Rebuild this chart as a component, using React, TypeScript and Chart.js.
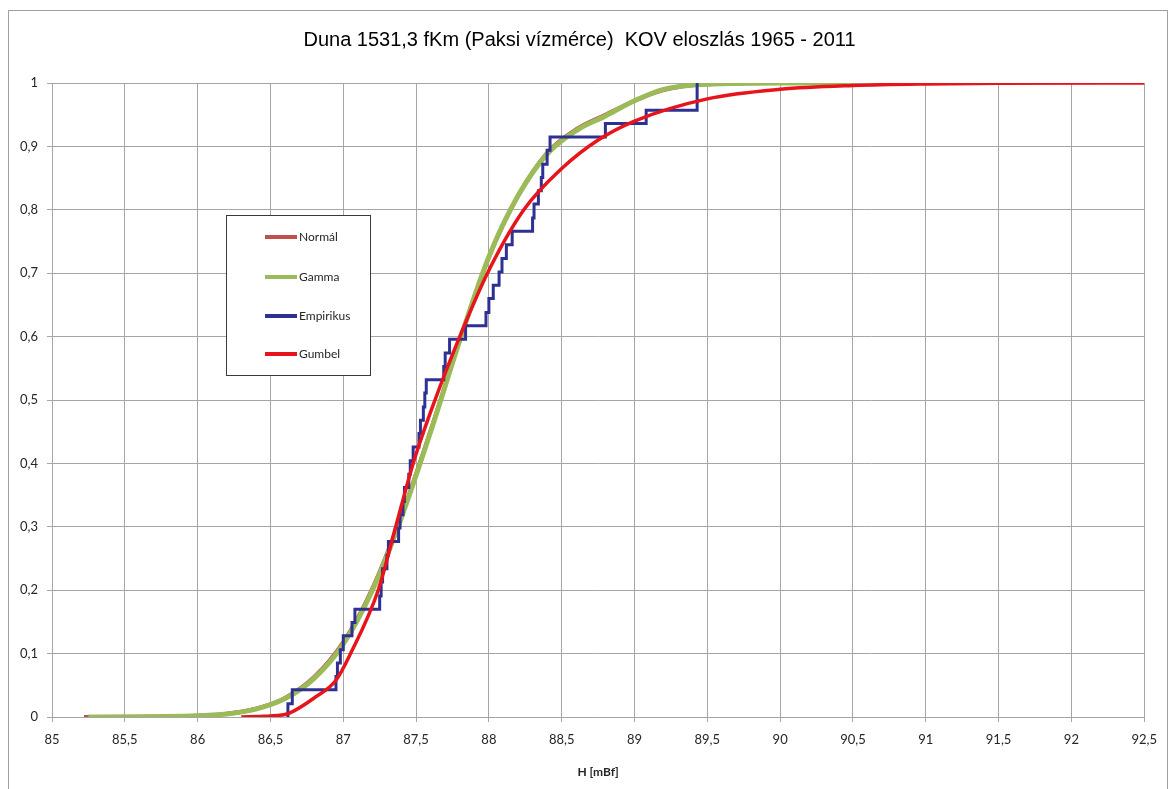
import { useEffect, useRef } from 'react';
import { Chart, registerables } from 'chart.js';

Chart.register(...registerables);

const TITLE = 'Duna 1531,3 fKm (Paksi vízmérce)  KOV eloszlás 1965 - 2011';
const X_TITLE = 'H [mBf]';

const X_MIN = 85;
const X_MAX = 92.5;
const X_STEP = 0.5;
const Y_MIN = 0;
const Y_MAX = 1;
const Y_STEP = 0.1;

const SERIES_NAMES = ['Normál', 'Gamma', 'Empirikus', 'Gumbel'];
const SERIES_COLORS = ['#C0504D', '#9BBB59', '#2E3192', '#E8141B'];
const SERIES_WIDTHS = [4, 5, 3, 3.5];

const normalX = [85.22, 85.5, 85.75, 86.0, 86.2, 86.4, 86.6, 86.8, 87.0, 87.2, 87.4, 87.6, 87.8, 88.0, 88.2, 88.4, 88.6, 88.8, 89.0, 89.2, 89.5, 90.0, 90.5];
const normalY = [0, 0.0002, 0.0006, 0.002, 0.005, 0.013, 0.03, 0.063, 0.118, 0.203, 0.318, 0.452, 0.594, 0.725, 0.822, 0.89, 0.927, 0.95, 0.972, 0.989, 0.998, 1.0, 1.0];

const gammaX = [85.25, 85.5, 85.75, 86.0, 86.2, 86.4, 86.6, 86.8, 87.0, 87.2, 87.4, 87.6, 87.8, 88.0, 88.2, 88.4, 88.6, 88.8, 89.0, 89.2, 89.5, 90.0, 90.5];
const gammaY = [0, 0.0001, 0.0005, 0.0018, 0.0048, 0.0125, 0.029, 0.061, 0.115, 0.2, 0.315, 0.45, 0.594, 0.726, 0.822, 0.888, 0.925, 0.948, 0.972, 0.99, 0.998, 1.0, 1.0];

const empiricalX = [86.62, 86.62, 86.65, 86.95, 86.96, 86.98, 87.0, 87.06, 87.08, 87.25, 87.26, 87.27, 87.3, 87.31, 87.38, 87.39, 87.41, 87.42, 87.45, 87.46, 87.48, 87.52, 87.53, 87.55, 87.56, 87.57, 87.69, 87.7, 87.73, 87.84, 87.98, 88.0, 88.03, 88.07, 88.09, 88.12, 88.16, 88.3, 88.31, 88.34, 88.36, 88.37, 88.4, 88.42, 88.8, 89.08, 89.43, 89.43];
const empiricalY = [0, 0.021, 0.043, 0.064, 0.085, 0.106, 0.128, 0.149, 0.17, 0.191, 0.213, 0.234, 0.255, 0.277, 0.298, 0.319, 0.34, 0.362, 0.383, 0.404, 0.426, 0.447, 0.468, 0.489, 0.511, 0.532, 0.553, 0.574, 0.596, 0.617, 0.638, 0.66, 0.681, 0.702, 0.723, 0.745, 0.766, 0.787, 0.809, 0.83, 0.851, 0.872, 0.894, 0.915, 0.936, 0.957, 0.979, 1.0];

const gumbelX = [86.3, 86.45, 86.6, 86.63, 86.8, 86.95, 87.05, 87.24, 87.36, 87.48, 87.63, 87.8, 87.99, 88.24, 88.5, 88.75, 89.0, 89.5, 90.0, 90.5, 91.0, 91.5, 92.5];
const gumbelY = [0, 0.001, 0.004, 0.006, 0.03, 0.058, 0.1, 0.2, 0.3, 0.4, 0.5, 0.6, 0.7, 0.8, 0.865, 0.91, 0.94, 0.975, 0.99, 0.996, 0.9985, 0.9995, 1.0];

const toPoints = (xs: number[], ys: number[]) => xs.map((x, i) => ({ x, y: ys[i] }));
const fmt = (v: number) => (Math.round(v * 10) / 10).toString().replace('.', ',');

const boxLegend = {
  id: 'boxLegend',
  afterDraw(chart: any) {
    const ctx = chart.ctx as CanvasRenderingContext2D;
    ctx.save();
    const bx = 217, by = 204, bw = 144, bh = 160;
    ctx.fillStyle = '#ffffff';
    ctx.fillRect(bx, by, bw, bh);
    ctx.strokeStyle = '#3a3a3a';
    ctx.lineWidth = 1;
    ctx.strokeRect(bx + 0.5, by + 0.5, bw, bh);
    const rows = [226, 266, 305, 343];
    ctx.font = '12px Lato, "Open Sans", sans-serif';
    ctx.textBaseline = 'middle';
    ctx.textAlign = 'left';
    SERIES_NAMES.forEach((name, i) => {
      const y = rows[i];
      ctx.strokeStyle = SERIES_COLORS[i];
      ctx.lineWidth = 4;
      ctx.beginPath();
      ctx.moveTo(256, y);
      ctx.lineTo(288, y);
      ctx.stroke();
      ctx.fillStyle = '#262626';
      ctx.fillText(name, 290, y);
    });
    ctx.restore();
  },
};

export default function App() {
  const ref = useRef<HTMLCanvasElement | null>(null);

  useEffect(() => {
    if (!ref.current) return;
    const mk = (i: number, data: any[], extra: any = {}) => ({
      label: SERIES_NAMES[i],
      data,
      borderColor: SERIES_COLORS[i],
      backgroundColor: SERIES_COLORS[i],
      borderWidth: SERIES_WIDTHS[i],
      pointRadius: 0,
      fill: false,
      ...extra,
    });
    const chart = new Chart(ref.current, {
      type: 'line',
      data: {
        datasets: [
          mk(0, toPoints(normalX, normalY), { cubicInterpolationMode: 'monotone', order: 4 }),
          mk(1, toPoints(gammaX, gammaY), { cubicInterpolationMode: 'monotone', order: 3 }),
          mk(2, toPoints(empiricalX, empiricalY), { stepped: 'before', order: 2, borderJoinStyle: 'miter' }),
          mk(3, toPoints(gumbelX, gumbelY), { cubicInterpolationMode: 'monotone', order: 1 }),
        ],
      },
      options: {
        animation: false,
        responsive: false,
        parsing: false as any,
        layout: { padding: { left: 0, right: 17, top: 0, bottom: 0 } },
        plugins: {
          legend: { display: false },
          tooltip: { enabled: false },
          title: {
            display: true,
            text: TITLE,
            color: '#000000',
            font: { family: '"Liberation Sans", Arial, sans-serif', size: 20, weight: 'normal', lineHeight: 1.2 },
            padding: { top: 17, bottom: 31 },
          },
        },
        scales: {
          x: {
            type: 'linear',
            min: X_MIN,
            max: X_MAX,
            afterFit: (s: any) => { s.height = 72; },
            ticks: {
              stepSize: X_STEP,
              callback: (v: any) => fmt(Number(v)),
              color: '#262626',
              font: { family: 'Lato, "Open Sans", sans-serif', size: 13 },
              padding: 10,
              maxRotation: 0,
            },
            grid: { color: '#a6a6a6', lineWidth: 1, tickLength: 5 },
            border: { color: '#a6a6a6', width: 1 },
            title: {
              display: true,
              text: X_TITLE,
              color: '#262626',
              font: { family: 'Lato, "Open Sans", sans-serif', size: 12, weight: 'bold', lineHeight: 1.2 },
              padding: { top: 4, bottom: 10 },
            },
          },
          y: {
            type: 'linear',
            min: Y_MIN,
            max: Y_MAX,
            afterFit: (s: any) => { s.width = 43; },
            ticks: {
              stepSize: Y_STEP,
              callback: (v: any) => fmt(Number(v)),
              color: '#262626',
              font: { family: 'Lato, "Open Sans", sans-serif', size: 13 },
              padding: 9,
            },
            grid: { color: '#a6a6a6', lineWidth: 1, tickLength: 5 },
            border: { color: '#a6a6a6', width: 1 },
          },
        },
      },
      plugins: [boxLegend],
    } as any);
    return () => chart.destroy();
  }, []);

  return (
    <div
      style={{
        position: 'absolute',
        left: 8,
        top: 10,
        width: 1160,
        height: 779,
        boxSizing: 'border-box',
        border: '1px solid #a0a0a0',
        borderBottom: 'none',
        background: '#ffffff',
      }}
    >
      <canvas ref={ref} width={1158} height={778} style={{ display: 'block' }} />
    </div>
  );
}
